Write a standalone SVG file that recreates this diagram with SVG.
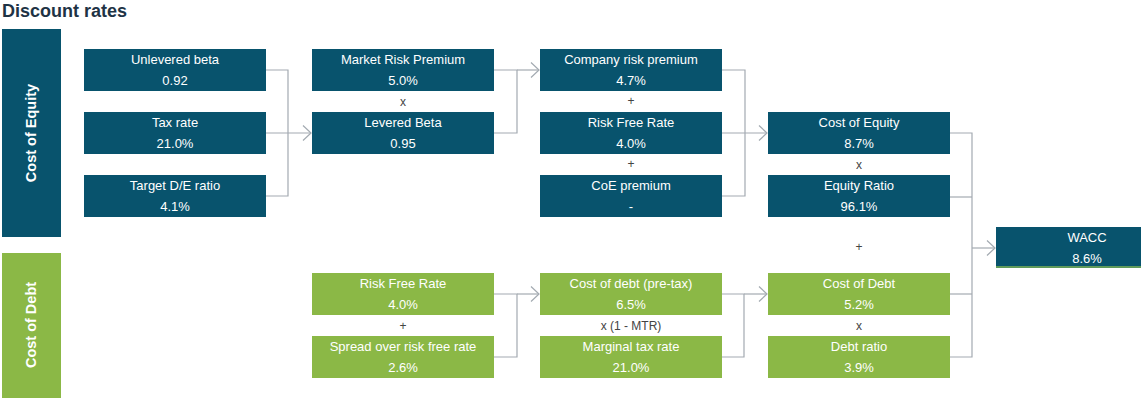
<svg xmlns="http://www.w3.org/2000/svg" width="1146" height="398" viewBox="0 0 1146 398">
<defs>
<style>
.eq{fill:#08536d}
.dt{fill:#8bb846}
.lb{font-family:"Liberation Sans",Arial,sans-serif;font-size:13px;fill:#ffffff;text-anchor:middle}
.op{font-family:"Liberation Sans",Arial,sans-serif;font-size:12px;fill:#444444;text-anchor:middle}
.band{font-family:"Liberation Sans",Arial,sans-serif;font-size:14.5px;font-weight:bold;fill:#ffffff;text-anchor:middle}
.cn{fill:none;stroke:#a3aab1;stroke-width:1.2}
</style>
<marker id="arr" viewBox="0 0 10 16" refX="9" refY="8" markerWidth="10" markerHeight="16" markerUnits="userSpaceOnUse" orient="auto">
<path d="M1,0.5 L9,8 L1,15.5" fill="none" stroke="#a3aab1" stroke-width="1.2"/>
</marker>
</defs>
<rect width="1146" height="398" fill="#ffffff"/>
<text x="2" y="17" font-family="Liberation Sans,Arial,sans-serif" font-size="18" font-weight="bold" fill="#1e3345">Discount rates</text>

<g id="band-equity"><rect x="2" y="29" width="59" height="208" class="eq"/><text class="band" transform="translate(36,133) rotate(-90)">Cost of Equity</text></g>
<g id="band-debt"><rect x="2" y="253" width="59" height="145" class="dt"/><text class="band" transform="translate(36,325) rotate(-90)">Cost of Debt</text></g>

<g id="connectors">
<polyline class="cn" points="266,70 288,70 288,196 266,196"/>
<line class="cn" x1="266" y1="133" x2="311" y2="133" marker-end="url(#arr)"/>
<polyline class="cn" points="494,133 517,133 517,70 494,70"/>
<line class="cn" x1="517" y1="70" x2="539" y2="70" marker-end="url(#arr)"/>
<polyline class="cn" points="722,70 745,70 745,196 722,196"/>
<line class="cn" x1="722" y1="133" x2="767" y2="133" marker-end="url(#arr)"/>
<polyline class="cn" points="950,133 972,133 972,357 950,357"/>
<line class="cn" x1="950" y1="197" x2="972" y2="197"/>
<line class="cn" x1="950" y1="294" x2="972" y2="294"/>
<line class="cn" x1="972" y1="248" x2="995" y2="248" marker-end="url(#arr)"/>
<polyline class="cn" points="494,294 517,294 517,357 494,357"/>
<line class="cn" x1="517" y1="294" x2="539" y2="294" marker-end="url(#arr)"/>
<polyline class="cn" points="722,294 744,294 744,357 722,357"/>
<line class="cn" x1="744" y1="294" x2="767" y2="294" marker-end="url(#arr)"/>
</g>

<g id="unlevered-beta"><rect x="84" y="49" width="182" height="42" class="eq"/><text class="lb" x="175" y="64">Unlevered beta</text><text class="lb" x="175" y="85">0.92</text></g>
<g id="tax-rate"><rect x="84" y="112" width="182" height="42" class="eq"/><text class="lb" x="175" y="127">Tax rate</text><text class="lb" x="175" y="148">21.0%</text></g>
<g id="target-de"><rect x="84" y="175" width="182" height="42" class="eq"/><text class="lb" x="175" y="190">Target D/E ratio</text><text class="lb" x="175" y="211">4.1%</text></g>

<g id="mrp"><rect x="312" y="49" width="182" height="42" class="eq"/><text class="lb" x="403" y="64">Market Risk Premium</text><text class="lb" x="403" y="85">5.0%</text></g>
<text class="op" x="403" y="106">x</text>
<g id="levered-beta"><rect x="312" y="112" width="182" height="42" class="eq"/><text class="lb" x="403" y="127">Levered Beta</text><text class="lb" x="403" y="148">0.95</text></g>

<g id="company-rp"><rect x="540" y="49" width="182" height="42" class="eq"/><text class="lb" x="631" y="64">Company risk premium</text><text class="lb" x="631" y="85">4.7%</text></g>
<text class="op" x="631" y="105">+</text>
<g id="rfr-eq"><rect x="540" y="112" width="182" height="42" class="eq"/><text class="lb" x="631" y="127">Risk Free Rate</text><text class="lb" x="631" y="148">4.0%</text></g>
<text class="op" x="631" y="168">+</text>
<g id="coe-premium"><rect x="540" y="175" width="182" height="42" class="eq"/><text class="lb" x="631" y="190">CoE premium</text><text class="lb" x="631" y="211">-</text></g>

<g id="cost-equity"><rect x="768" y="112" width="182" height="42" class="eq"/><text class="lb" x="859" y="127">Cost of Equity</text><text class="lb" x="859" y="148">8.7%</text></g>
<text class="op" x="859" y="169">x</text>
<g id="equity-ratio"><rect x="768" y="175" width="182" height="42" class="eq"/><text class="lb" x="859" y="190">Equity Ratio</text><text class="lb" x="859" y="211">96.1%</text></g>
<text class="op" x="859" y="251">+</text>

<g id="wacc"><rect x="996" y="227" width="145" height="41" class="eq"/><rect x="996" y="266" width="145" height="2" fill="#5f9a5a"/><text class="lb" x="1087" y="242">WACC</text><text class="lb" x="1087" y="263">8.6%</text></g>

<g id="rfr-debt"><rect x="312" y="273" width="182" height="42" class="dt"/><text class="lb" x="403" y="288">Risk Free Rate</text><text class="lb" x="403" y="309">4.0%</text></g>
<text class="op" x="403" y="330">+</text>
<g id="spread"><rect x="312" y="336" width="182" height="42" class="dt"/><text class="lb" x="403" y="351">Spread over risk free rate</text><text class="lb" x="403" y="372">2.6%</text></g>

<g id="cod-pretax"><rect x="540" y="273" width="182" height="42" class="dt"/><text class="lb" x="631" y="288">Cost of debt (pre-tax)</text><text class="lb" x="631" y="309">6.5%</text></g>
<text class="op" x="631" y="330">x (1 - MTR)</text>
<g id="mtr"><rect x="540" y="336" width="182" height="42" class="dt"/><text class="lb" x="631" y="351">Marginal tax rate</text><text class="lb" x="631" y="372">21.0%</text></g>

<g id="cost-debt"><rect x="768" y="273" width="182" height="42" class="dt"/><text class="lb" x="859" y="288">Cost of Debt</text><text class="lb" x="859" y="309">5.2%</text></g>
<text class="op" x="859" y="330">x</text>
<g id="debt-ratio"><rect x="768" y="336" width="182" height="42" class="dt"/><text class="lb" x="859" y="351">Debt ratio</text><text class="lb" x="859" y="372">3.9%</text></g>
</svg>
